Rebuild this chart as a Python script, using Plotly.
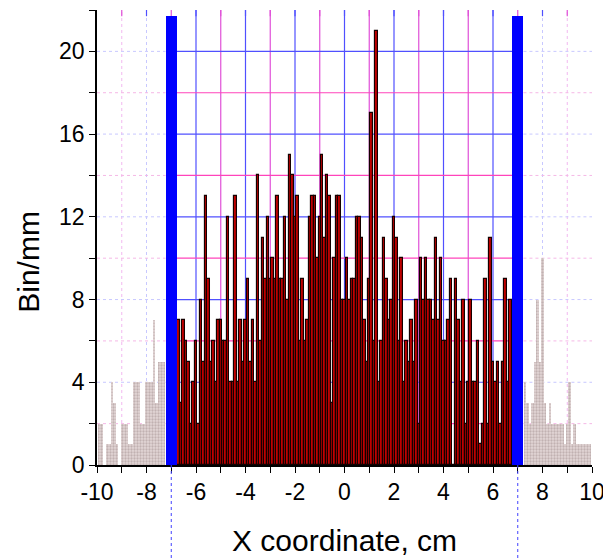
import plotly.graph_objects as go

# ---------------- data ----------------
red_centers = [round(-6.7 + 0.1 * i, 1) for i in range(135)]
red_values = [7, 3, 7, 6, 5, 2, 4, 6, 2, 8, 5, 13, 9, 5, 6, 4, 7, 7, 6, 6,
              12, 4, 4, 13, 4, 7, 5, 7, 9, 5, 7, 4, 14, 6,
              11, 9, 12, 9, 10, 9, 13, 9, 9, 12, 8, 15, 14, 12, 13, 6, 9, 6, 7, 12,
              13, 13, 10, 12, 15, 11, 14, 13, 3, 10, 13, 13, 8, 8,
              10, 8, 9, 9, 12, 12, 11, 7, 5, 9, 17, 6, 21, 4, 6, 11, 9, 7, 8, 12,
              11, 6, 10, 4, 6, 5, 7, 5, 8, 2, 10, 8, 10, 8,
              8, 7, 11, 7, 10, 6, 6, 7, 9, 0, 9, 7, 4, 8, 2, 4, 8, 4, 4, 6,
              1, 2, 9, 2, 11, 5, 4, 5, 2, 5, 9, 4, 8]

grey_left_centers = [round(-9.9 + 0.1 * i, 1) for i in range(27)]
grey_left_values = [2, 2, 0, 1, 1, 4, 3, 1, 0, 2, 2, 2, 1, 1, 4, 4, 4, 2, 2, 4,
                    4, 4, 7, 3, 5, 5, 5]
grey_right_centers = [round(7.3 + 0.1 * i, 1) for i in range(27)]
grey_right_values = [4, 3, 2, 3, 5, 8, 5, 10, 3, 2, 3, 2, 2, 2, 2, 2, 1, 2, 4, 1,
                     2, 1, 1, 1, 1, 1, 1]

limit_x = [-7, 7]
limit_height = [21.7, 21.7]

x_tickvals = [-10, -8, -6, -4, -2, 0, 2, 4, 6, 8, 10]
x_ticktext = ["-10", "-8", "-6", "-4", "-2", "0", "2", "4", "6", "8", "10"]
y_tickvals = [0, 4, 8, 12, 16, 20]
y_ticktext = ["0", "4", "8", "12", "16", "20"]

# ---------------- figure ----------------
fig = go.Figure()

grey_marker = dict(color="#d8c8c8", line=dict(width=0),
                   pattern=dict(shape=".", fgcolor="#a08c8c", bgcolor="#e2d6d6",
                                size=3, solidity=0.45))
fig.add_trace(go.Bar(x=grey_left_centers, y=grey_left_values, width=0.1,
                     marker=grey_marker, showlegend=False))
fig.add_trace(go.Bar(x=grey_right_centers, y=grey_right_values, width=0.1,
                     marker=grey_marker, showlegend=False))
fig.add_trace(go.Bar(x=red_centers, y=red_values, width=0.1,
                     marker=dict(color="#c00000", line=dict(color="#140000", width=1.15)),
                     showlegend=False))
fig.add_trace(go.Bar(x=limit_x, y=limit_height, width=0.46,
                     marker=dict(color="#0000ff", line=dict(width=0)),
                     showlegend=False))

BLUE = "#5050ff"
PINK = "#e050d8"
HPINK = "#ff44bb"
shapes = []
# vertical grid lines
for xv in range(-9, 10):
    col = BLUE if xv % 2 == 0 else PINK
    if abs(xv) <= 6:
        shapes.append(dict(type="line", xref="x", yref="y", x0=xv, x1=xv, y0=0, y1=22,
                           line=dict(color=col, width=1.2), layer="below"))
    elif abs(xv) >= 8:
        faint = "#c8c8ff" if xv % 2 == 0 else "#f2b8f0"
        shapes.append(dict(type="line", xref="x", yref="y", x0=xv, x1=xv, y0=0, y1=22,
                           line=dict(color=faint, width=1, dash="dot"), layer="below"))
    # small solid mark at top
    shapes.append(dict(type="line", xref="x", yref="y", x0=xv, x1=xv, y0=21.7, y1=22,
                       line=dict(color=col, width=1.2), layer="below"))
# horizontal grid lines
for yv in range(2, 21, 2):
    col = BLUE if yv % 4 == 0 else HPINK
    shapes.append(dict(type="line", xref="x", yref="y", x0=-6.77, x1=6.77, y0=yv, y1=yv,
                       line=dict(color=col, width=1.2), layer="below"))
    faint = "#c8c8ff" if yv % 4 == 0 else "#f5b8e6"
    for a, b in [(-10, -7.23), (7.23, 10)]:
        shapes.append(dict(type="line", xref="x", yref="y", x0=a, x1=b, y0=yv, y1=yv,
                           line=dict(color=faint, width=1, dash="dot"), layer="below"))
# dotted blue markers below the axis at the limits
for xv in limit_x:
    shapes.append(dict(type="line", xref="x", yref="paper", x0=xv, x1=xv, y0=0, y1=-0.21,
                       line=dict(color="#4040ff", width=1, dash="dot")))

fig.update_layout(
    width=603, height=558,
    margin=dict(l=97, r=11, t=10, b=93, autoexpand=False),
    paper_bgcolor="white", plot_bgcolor="white",
    barmode="overlay", bargap=0,
    shapes=shapes,
    font=dict(family="Liberation Sans, Arial, sans-serif", color="black"),
    xaxis=dict(range=[-10, 10], tickvals=x_tickvals, ticktext=x_ticktext,
               automargin=False, ticklabeloverflow="allow",
               showgrid=False, zeroline=False, showline=True, linecolor="black",
               linewidth=1.5, ticks="outside", ticklen=6, tickwidth=1.2, tickcolor="black",
               minor=dict(dtick=1, tick0=0, ticks="outside", ticklen=6, tickwidth=1.2,
                          tickcolor="black", showgrid=False),
               tickfont=dict(size=23)),
    yaxis=dict(range=[0, 22], tickvals=y_tickvals, ticktext=y_ticktext,
               automargin=False, ticklabeloverflow="allow",
               showgrid=False, zeroline=False, showline=True, linecolor="black",
               linewidth=1.5, ticks="outside", ticklen=6, tickwidth=1.2, tickcolor="black",
               minor=dict(dtick=2, tick0=0, ticks="outside", ticklen=6, tickwidth=1.2,
                          tickcolor="black", showgrid=False),
               tickfont=dict(size=23)),
    annotations=[
        dict(text="X coordinate, cm", xref="paper", yref="paper", x=0.5, y=-0.167,
             xanchor="center", yanchor="middle", showarrow=False,
             font=dict(size=30, color="black")),
        dict(text="Bin/mm", xref="paper", yref="paper", x=-0.14, y=0.446,
             xanchor="center", yanchor="middle", showarrow=False, textangle=-90,
             font=dict(size=30, color="black")),
    ],
)

fig.write_html(
    "out.html",
    config={"displayModeBar": False},
    post_script="document.body.style.margin='0';document.body.style.overflow='hidden';",
)
